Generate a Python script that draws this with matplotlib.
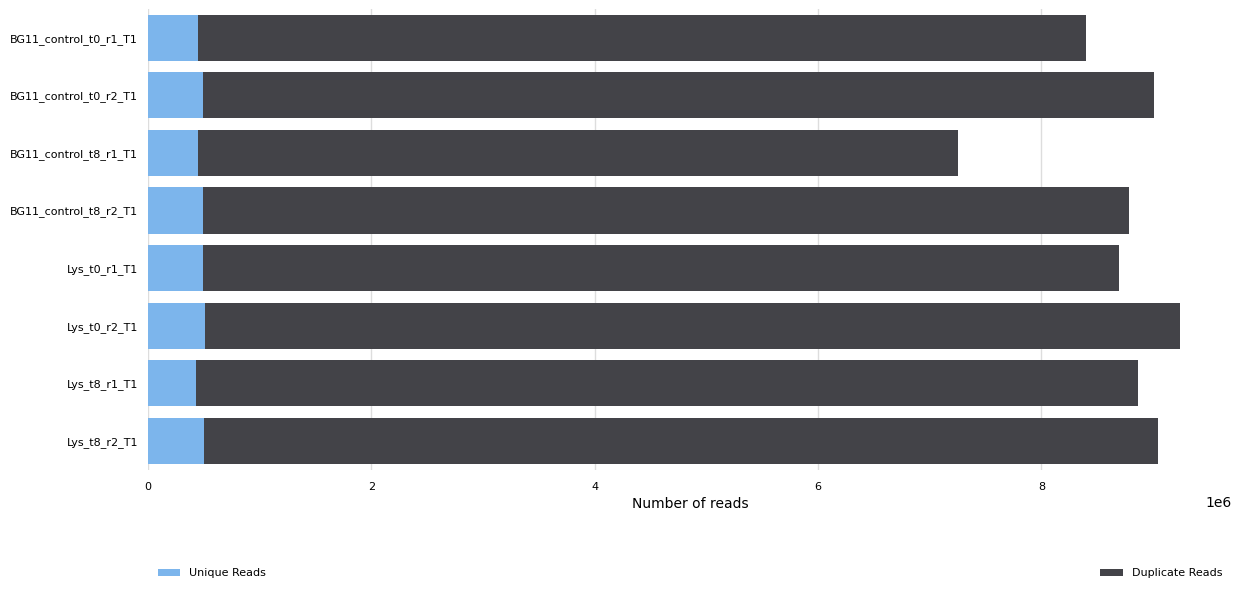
import matplotlib
matplotlib.use("Agg")
import matplotlib.pyplot as plt
import numpy as np

# samples and read counts
samples = ["BG11_control_t0_r1_T1", "BG11_control_t0_r2_T1", "BG11_control_t8_r1_T1",
           "BG11_control_t8_r2_T1", "Lys_t0_r1_T1", "Lys_t0_r2_T1",
           "Lys_t8_r1_T1", "Lys_t8_r2_T1"]
unique_reads = [447000, 492000, 447000, 492000, 492000, 510000, 430000, 500000]
total_reads = [8403000, 9011000, 7257000, 8787000, 8698000, 9244000, 8868000, 9047000]
duplicate_reads = [t - u for t, u in zip(total_reads, unique_reads)]

fig = plt.figure(figsize=(12.42, 5.91), dpi=100)
ax = fig.add_axes([0.119, 0.205, 0.873, 0.78])

y = np.arange(len(samples))
ax.barh(y, unique_reads, height=0.8, color="#7cb5ec", label="Unique Reads", zorder=2)
ax.barh(y, duplicate_reads, left=unique_reads, height=0.8, color="#434348",
        label="Duplicate Reads", zorder=2)

ax.set_yticks(y)
ax.set_yticklabels(samples, fontsize=8)
ax.set_ylim(len(samples) - 0.5, -0.5)
ax.tick_params(axis="x", labelsize=8, length=0, pad=8.5)
ax.tick_params(axis="y", length=0, pad=7)
ax.set_xlabel("Number of reads", fontsize=10)
ax.grid(axis="x", color="#dddddd", linewidth=1, zorder=0)
for s in ax.spines.values():
    s.set_visible(False)

handles, labels = ax.get_legend_handles_labels()
fig.legend(handles, labels, loc="lower left", ncol=2, mode="expand",
           bbox_to_anchor=(0.119, 0.005, 0.873, 0.06), frameon=False, fontsize=8,
           handlelength=2.0, handleheight=0.6)

fig.savefig("out.png", dpi=100)
